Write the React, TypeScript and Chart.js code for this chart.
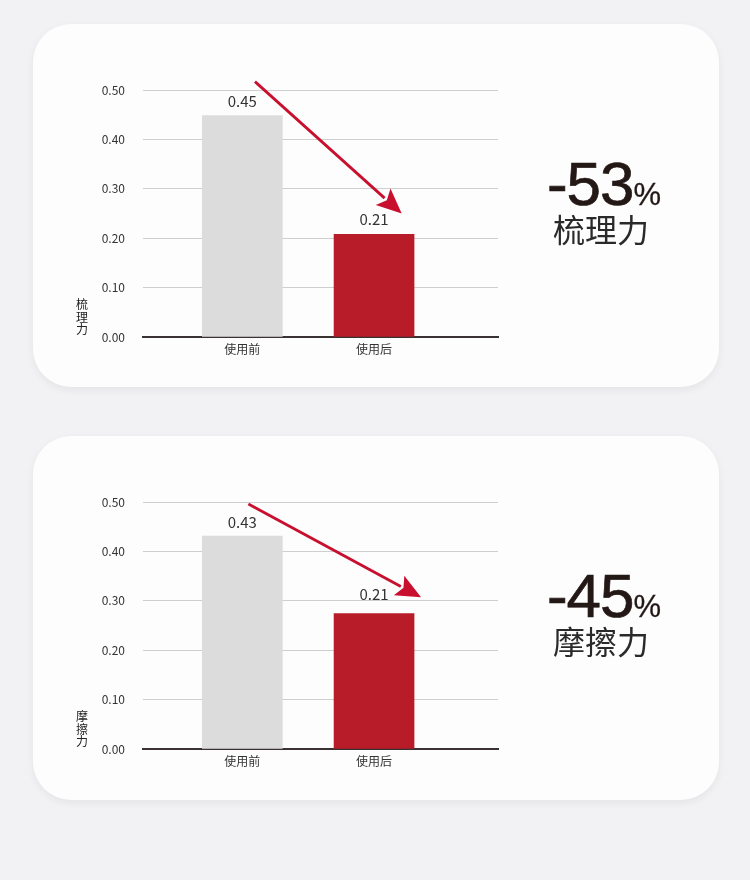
import { useEffect, useRef } from 'react'
import { Chart, registerables } from 'chart.js'

Chart.register(...registerables)

const FONT = '"Noto Sans CJK SC", "Noto Sans", sans-serif'
Chart.defaults.font.family = FONT

// shared axes
const categories = ['使用前', '使用后']
const yTicks = [0, 0.1, 0.2, 0.3, 0.4, 0.5]

// 梳理力 panel
const combValues = [0.448, 0.208]
const combLabels = ['0.45', '0.21']
const combArrowFrom = [0.096, 0.517]
const combArrowTo = [1.21, 0.25]

// 摩擦力 panel (second bar is drawn taller than its "0.21" label in the original)
const frictionValues = [0.431, 0.274]
const frictionLabels = ['0.43', '0.21']
const frictionArrowFrom = [0.046, 0.496]
const frictionArrowTo = [1.357, 0.307]

interface PanelProps {
  top: number
  height: number
  title: string
  change: string
  values: number[]
  labels: string[]
  labelGaps: number[]
  arrowFrom: number[]
  arrowTo: number[]
}

function BarPanel(props: PanelProps) {
  const { values, labels, labelGaps, arrowFrom, arrowTo } = props
  const chartRef = useRef<HTMLCanvasElement | null>(null)

  useEffect(() => {
    if (!chartRef.current) return

    const overlay = {
      id: 'overlay',
      afterDatasetsDraw(chart: any) {
        const { ctx } = chart
        const { x, y } = chart.scales
        const meta = chart.getDatasetMeta(0)

        ctx.save()
        ctx.font = `15px ${FONT}`
        ctx.fillStyle = '#333333'
        ctx.textAlign = 'center'
        ctx.textBaseline = 'alphabetic'
        meta.data.forEach((bar: any, i: number) => {
          ctx.fillText(labels[i], bar.x, bar.y - labelGaps[i])
        })

        // red trend arrow
        const x1 = x.getPixelForValue(arrowFrom[0])
        const y1 = y.getPixelForValue(arrowFrom[1])
        const x2 = x.getPixelForValue(arrowTo[0])
        const y2 = y.getPixelForValue(arrowTo[1])
        const ang = Math.atan2(y2 - y1, x2 - x1)
        const head = 25
        const half = 11
        const bx = x2 - head * Math.cos(ang)
        const by = y2 - head * Math.sin(ang)
        ctx.strokeStyle = '#c8102e'
        ctx.fillStyle = '#c8102e'
        ctx.lineWidth = 2.8
        ctx.beginPath()
        ctx.moveTo(x1, y1)
        ctx.lineTo(bx + 2 * Math.cos(ang), by + 2 * Math.sin(ang))
        ctx.stroke()
        ctx.beginPath()
        ctx.moveTo(x2, y2)
        ctx.lineTo(bx - half * Math.sin(ang), by + half * Math.cos(ang))
        ctx.lineTo(bx + 5 * Math.cos(ang), by + 5 * Math.sin(ang))
        ctx.lineTo(bx + half * Math.sin(ang), by - half * Math.cos(ang))
        ctx.closePath()
        ctx.fill()
        ctx.restore()
      }
    }

    const chart = new Chart(chartRef.current, {
      type: 'bar',
      data: {
        datasets: [{
          data: values.map((v, i) => ({ x: i, y: v })),
          backgroundColor: ['#dcdcdc', '#b71c28'],
          barThickness: 80
        }]
      },
      options: {
        animation: false,
        responsive: true,
        maintainAspectRatio: false,
        layout: { padding: { top: 26, right: 35, bottom: 17, left: 0 } },
        plugins: {
          legend: { display: false },
          tooltip: { enabled: false }
        },
        scales: {
          x: {
            type: 'linear',
            offset: false,
            min: -0.754,
            max: 1.941,
            grid: { display: false, offset: false },
            border: { display: true, color: '#3a3232', width: 2 },
            afterBuildTicks: (s: any) => { s.ticks = categories.map((_, i) => ({ value: i })) },
            afterFit: (s: any) => { s.height = 30 },
            ticks: {
              callback: (v: any) => categories[v] ?? '',
              padding: -3,
              color: '#333333',
              font: { size: 12 },
              autoSkip: false,
              maxRotation: 0
            }
          },
          y: {
            min: 0,
            max: 0.5,
            afterBuildTicks: (s: any) => { s.ticks = yTicks.map(value => ({ value })) },
            afterFit: (s: any) => { s.width = 70 },
            border: { display: false },
            grid: {
              drawTicks: false,
              color: (c: any) => (c.tick && c.tick.value === 0 ? 'rgba(0,0,0,0)' : '#cfcfcf'),
              lineWidth: 1
            },
            ticks: {
              callback: (v: any) => Number(v).toFixed(2),
              padding: 18,
              color: '#333333',
              font: { size: 12 }
            }
          }
        }
      },
      plugins: [overlay]
    } as any)

    return () => {
      chart.destroy()
    }
  }, [values, labels])

  return (
    <div style={{
      position: 'absolute', left: 33, top: props.top, width: 686, height: props.height,
      borderRadius: 38, background: '#fdfdfe', boxShadow: '0 3px 8px rgba(0,0,0,0.06)'
    }}>
      <div style={{ position: 'absolute', left: 40, top: 40, width: 460, height: 320 }}>
        <canvas ref={chartRef} />
      </div>
      <div style={{
        position: 'absolute', left: 42, top: 274, width: 14, fontFamily: FONT,
        fontSize: 12, lineHeight: '12.5px', color: '#222', textAlign: 'center'
      }}>
        {props.title.split('').map((ch, i) => <div key={i}>{ch}</div>)}
      </div>
      <div style={{
        position: 'absolute', left: 471, top: 129, width: 200, textAlign: 'center',
        fontFamily: '"Liberation Sans", Arial, sans-serif', color: '#231815',
        fontSize: 62, lineHeight: '62px', letterSpacing: -1, WebkitTextStroke: '0.7px #231815'
      }}>
        {props.change}<span style={{ fontSize: 31, letterSpacing: 0, WebkitTextStroke: '0.3px #231815' }}>%</span>
      </div>
      <div style={{
        position: 'absolute', left: 468, top: 188, width: 200, textAlign: 'center',
        fontFamily: FONT, color: '#2a2a2a', fontSize: 32, lineHeight: '32px', letterSpacing: 0
      }}>
        {props.title}
      </div>
    </div>
  )
}

export default function App() {
  return (
    <div style={{ position: 'absolute', left: 0, top: 0, width: 750, height: 880, background: '#f2f2f4' }}>
      <BarPanel
        top={24}
        height={363}
        title="梳理力"
        change="-53"
        values={combValues}
        labels={combLabels}
        labelGaps={[9, 9]}
        arrowFrom={combArrowFrom}
        arrowTo={combArrowTo}
      />
      <BarPanel
        top={436}
        height={364}
        title="摩擦力"
        change="-45"
        values={frictionValues}
        labels={frictionLabels}
        labelGaps={[8, 14]}
        arrowFrom={frictionArrowFrom}
        arrowTo={frictionArrowTo}
      />
    </div>
  )
}
